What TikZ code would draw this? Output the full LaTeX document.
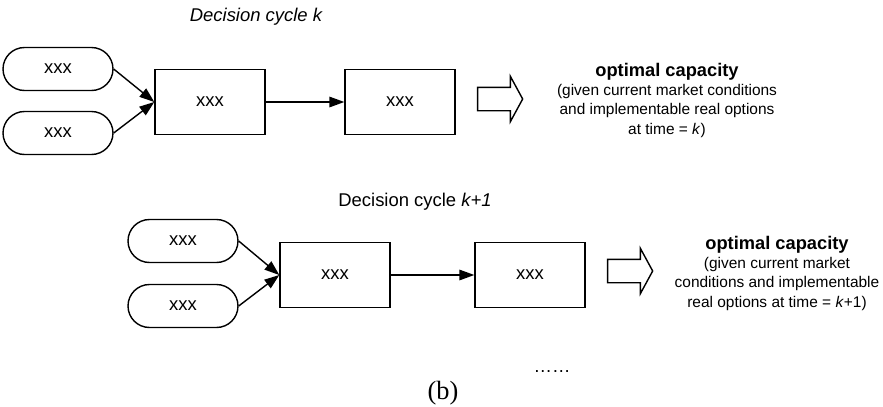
\documentclass[tikz,border=0pt]{standalone}
\usepackage{fontspec}
\setmainfont{Liberation Sans}
\newfontfamily\serifb{Liberation Serif}
\usetikzlibrary{shapes.misc,shapes.arrows,arrows.meta}
\tikzset{
  pill/.style={shape=rounded rectangle,draw,line width=0.8pt,minimum width=2.2cm,minimum height=0.86cm,inner sep=0pt},
  stepbox/.style={shape=rectangle,draw,line width=0.8pt,minimum width=2.2cm,minimum height=1.3cm,inner sep=0pt},
  bigarrow/.style={shape=single arrow,draw,line width=0.8pt,minimum height=0.9cm,inner xsep=0pt,inner ysep=0.22cm,single arrow head extend=0.22cm,single arrow tip angle=123},
  result/.style={align=center,font=\fontsize{8.8}{11}\selectfont},
  flow/.style={-{Triangle[length=8.5pt,width=6pt]},line width=0.8pt}
}
\begin{document}
\begin{tikzpicture}[x=0.02cm,y=-0.02cm,font=\fontsize{10.5}{12.5}\selectfont]
\useasboundingbox (0,0) rectangle (883,406);
% cycle k
\node(t1) at (256,17) {\itshape Decision cycle k};
\node(a1) at (58,69)[pill]     {xxx};
\node(a2) at (58,133)[pill]    {xxx};
\node(c1) at (210,102)[stepbox] {xxx};
\node(d1) at (400,102)[stepbox] {xxx};
\node(e1) at (497,99)[bigarrow] {};
\node(r1) at (667,100)[result]
  {{\bfseries\fontsize{10.4}{12}\selectfont optimal capacity}\\
   (given current market conditions\\
   and implementable real options\\
   at time = \textit{k})};
\path [flow]
  (a1.east) edge (c1.west)
  (a2.east) edge (c1.west)
  (c1)      edge (d1);
% cycle k+1
\node(t2) at (415,202) {Decision cycle \textit{k+1}};
\node(b1) at (183,241)[pill]    {xxx};
\node(b2) at (183,306)[pill]    {xxx};
\node(c2) at (335,275)[stepbox] {xxx};
\node(d2) at (530,275)[stepbox] {xxx};
\node(e2) at (627,271)[bigarrow] {};
\node(r2) at (777,273)[result]
  {{\bfseries\fontsize{10.4}{12}\selectfont optimal capacity}\\
   (given current market\\
   conditions and implementable\\
   real options at time = \textit{k}+1)};
\path [flow]
  (b1.east) edge (c2.west)
  (b2.east) edge (c2.west)
  (c2)      edge (d2);
\node(dots) at (552,372) {……};
\node(cap) at (443,393) {\serifb\fontsize{15}{17}\selectfont (b)};
\end{tikzpicture}
\end{document}
